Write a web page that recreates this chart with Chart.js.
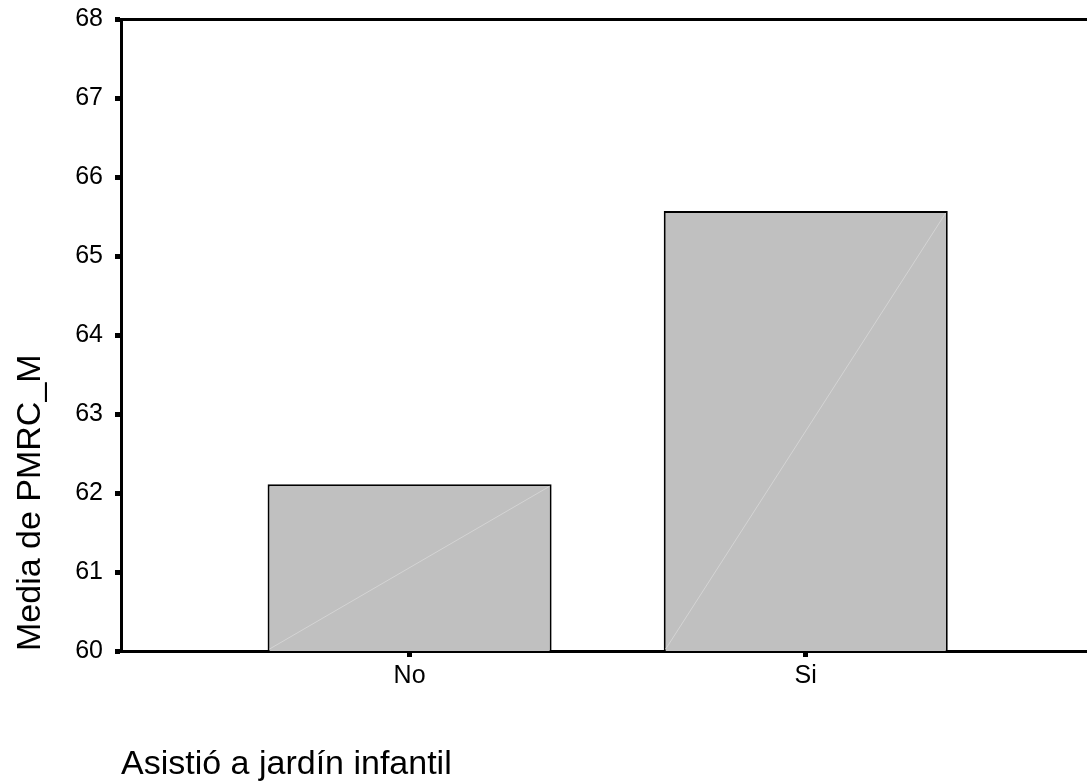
<!DOCTYPE html>
<html><head><meta charset="utf-8">
<script src="https://cdn.jsdelivr.net/npm/chart.js@4"></script>
<style>html,body{margin:0;padding:0;background:#fff;overflow:hidden}#wrap{width:1087px;height:782px}</style>
</head><body><div id="wrap"><canvas id="c" width="1087" height="782"></canvas></div>
<script>
const categories = ['No', 'Si'];
const means = [62.11, 65.57];
const yTicks = [60, 61, 62, 63, 64, 65, 66, 67, 68];
const yTitle = 'Media de PMRC_M';
const xTitle = 'Asistió a jardín infantil';

const FONT = '"Liberation Sans", Arial, sans-serif';
const xMin = 0.2715, xMax = 2.71;

const diagPlugin = {
  id: 'diag',
  afterDatasetsDraw(chart) {
    const ctx = chart.ctx;
    const a = chart.chartArea;
    chart.getDatasetMeta(0).data.forEach(el => {
      const x = el.x, y = el.y, w = el.width;
      const base = Math.min(el.base, a.bottom);
      const l = x - w / 2 + 2, r = x + w / 2 - 2;
      ctx.save();
      ctx.strokeStyle = '#d4d4d4';
      ctx.lineWidth = 1;
      ctx.beginPath();
      ctx.moveTo(l, base - 2);
      ctx.lineTo(r, y + 2);
      ctx.stroke();
      ctx.restore();
    });
  }
};

new Chart(document.getElementById('c'), {
  type: 'bar',
  data: {
    datasets: [{
      data: means.map((v, i) => ({ x: i + 1, y: v })),
      backgroundColor: '#c0c0c0',
      borderColor: '#000',
      borderWidth: 2,
      borderSkipped: false,
      categoryPercentage: 1,
      barPercentage: 0.717
    }]
  },
  options: {
    responsive: false,
    devicePixelRatio: 1,
    animation: false,
    layout: { padding: 0 },
    plugins: { legend: { display: false }, tooltip: { enabled: false } },
    scales: {
      x: {
        type: 'linear', position: 'bottom', min: xMin, max: xMax, offset: false,
        afterBuildTicks: s => { s.ticks = categories.map((c, i) => ({ value: i + 1 })); },
        afterFit: s => { s.height = 131; s.paddingLeft = 0; s.paddingRight = 0; },
        ticks: {
          callback: v => categories[v - 1] ?? '',
          font: { family: FONT, size: 25 }, color: '#000', padding: 4,
          maxRotation: 0, autoSkip: false
        },
        grid: { offset: false, drawOnChartArea: false, drawTicks: true, tickLength: 6, tickWidth: 5, tickColor: '#000' },
        border: { display: true, color: '#000', width: 3 },
        title: {
          display: true, text: xTitle, align: 'start', color: '#000',
          font: { family: FONT, size: 34, lineHeight: 1.0 }, padding: { top: 0, bottom: 0 }
        }
      },
      x2: {
        type: 'linear', position: 'top', min: xMin, max: xMax, offset: false,
        afterBuildTicks: s => { s.ticks = categories.map((c, i) => ({ value: i + 1 })); },
        afterFit: s => { s.height = 19; s.paddingLeft = 0; s.paddingRight = 0; },
        ticks: { display: false },
        grid: { offset: false, drawOnChartArea: false, drawTicks: false },
        border: { display: true, color: '#000', width: 3 }
      },
      y: {
        min: 60, max: 68,
        afterBuildTicks: s => { s.ticks = yTicks.map(v => ({ value: v })); },
        afterFit: s => { s.width = 121; s.paddingTop = 0; s.paddingBottom = 0; },
        ticks: { font: { family: FONT, size: 25 }, color: '#000', padding: 12 },
        grid: { drawOnChartArea: false, drawTicks: true, tickLength: 6, tickWidth: 5, tickColor: '#000' },
        border: { display: true, color: '#000', width: 3 },
        title: {
          display: true, text: yTitle, align: 'start', color: '#000',
          font: { family: FONT, size: 34 }, padding: { top: 10, bottom: 0 }
        }
      }
    }
  },
  plugins: [diagPlugin]
});
</script></body></html>
